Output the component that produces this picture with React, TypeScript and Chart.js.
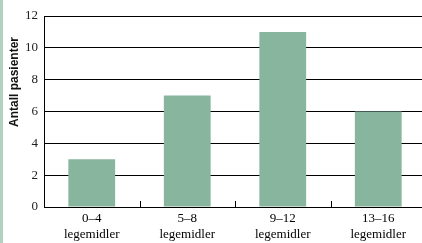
import React, { useEffect, useRef } from "react";
import { Chart, registerables } from "chart.js";

Chart.register(...registerables);

const categories: string[][] = [
  ["0–4", "legemidler"],
  ["5–8", "legemidler"],
  ["9–12", "legemidler"],
  ["13–16", "legemidler"],
];
const patientCounts: number[] = [3, 7, 11, 6];
const yTicks = { min: 0, max: 12, step: 2 };
const yTitle = "Antall pasienter";

const SERIF = "'Liberation Serif', 'Times New Roman', 'DejaVu Serif', serif";

const upTicksPlugin = {
  id: "upTicks",
  afterDatasetsDraw(chart: any) {
    const x = chart.scales.x;
    const ctx = chart.ctx;
    const bottom = chart.chartArea.bottom;
    ctx.save();
    ctx.strokeStyle = "#000";
    ctx.lineWidth = 1;
    for (let i = 0; i < categories.length - 1; i++) {
      const px = Math.round((x.getPixelForValue(i) + x.getPixelForValue(i + 1)) / 2) + 0.5;
      ctx.beginPath();
      ctx.moveTo(px, bottom);
      ctx.lineTo(px, bottom - 6);
      ctx.stroke();
    }
    ctx.restore();
  },
};

export default function App() {
  const ref = useRef<HTMLCanvasElement>(null);
  useEffect(() => {
    document.body.style.margin = "0";
    let chart: Chart | null = null;
    let cancelled = false;
    const build = () => {
      if (cancelled || !ref.current) return;
      chart = new Chart(ref.current, {
        type: "bar",
        data: {
          labels: categories,
          datasets: [
            {
              data: patientCounts,
              backgroundColor: "#88b59d",
              borderWidth: 0,
              barPercentage: 0.49,
              categoryPercentage: 1,
            },
          ],
        },
        options: {
          animation: false,
          responsive: false,
          maintainAspectRatio: false,
          layout: { padding: { top: 16, left: 0, right: 0, bottom: 0 } },
          plugins: { legend: { display: false }, tooltip: { enabled: false } },
          scales: {
            x: {
              grid: { display: false, drawTicks: false },
              border: { display: true, color: "#000", width: 1 },
              ticks: {
                color: "#000",
                font: { family: SERIF, size: 13, lineHeight: 1.2 },
                padding: 4,
                maxRotation: 0,
                autoSkip: false,
              },
              afterFit(scale: any) {
                scale.height = 36;
              },
            },
            y: {
              min: yTicks.min,
              max: yTicks.max,
              ticks: {
                stepSize: yTicks.step,
                color: "#222",
                font: { family: SERIF, size: 13 },
                padding: 6,
              },
              grid: { color: "#000", lineWidth: 1, drawTicks: false },
              border: { display: true, color: "#000", width: 1 },
              afterFit(scale: any) {
                scale.width = 44;
              },
            },
          },
        },
        plugins: [upTicksPlugin],
      });
    };
    const fonts: any = (document as any).fonts;
    if (fonts && fonts.load) {
      Promise.all([
        fonts.load("13px 'Liberation Serif'"),
        fonts.load("bold 12px 'Liberation Sans'"),
      ])
        .catch(() => null)
        .then(build);
    } else {
      build();
    }
    return () => {
      cancelled = true;
      if (chart) chart.destroy();
    };
  }, []);
  return (
    <div
      style={{
        position: "fixed",
        left: 0,
        top: 0,
        width: 422,
        height: 243,
        overflow: "hidden",
        background: "#fff",
      }}
    >
      <canvas ref={ref} width={426} height={243} style={{ position: "absolute", left: 0, top: 0 }} />
      <div
        style={{
          position: "absolute",
          left: 0,
          top: 0,
          width: 3,
          height: 243,
          background: "#b2d1c0",
        }}
      />
      <div
        style={{
          position: "absolute",
          left: 14,
          top: 82,
          transform: "translate(-50%, -50%) rotate(-90deg)",
          whiteSpace: "nowrap",
          fontFamily: "'Liberation Sans', Arial, sans-serif",
          fontWeight: "bold",
          fontSize: 12,
          color: "#111",
        }}
      >
        {yTitle}
      </div>
    </div>
  );
}
